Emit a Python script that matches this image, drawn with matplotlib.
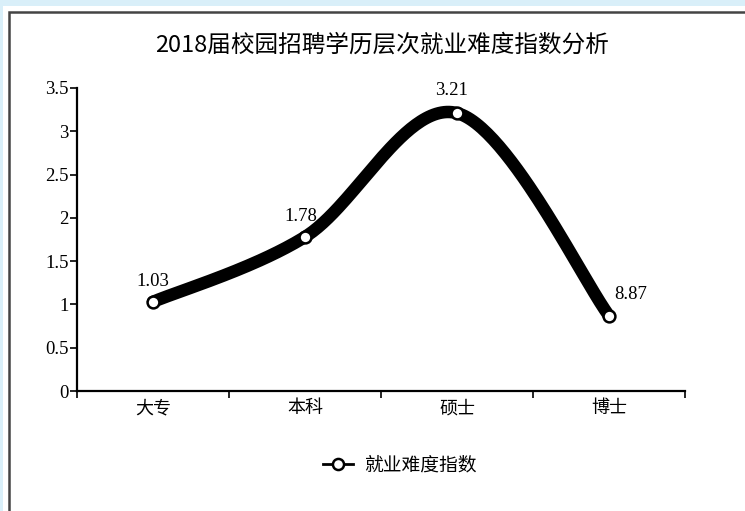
import numpy as np
import matplotlib
matplotlib.use("Agg")
import matplotlib.pyplot as plt
from matplotlib.patches import Rectangle
from matplotlib.lines import Line2D

categories = ["大专", "本科", "硕士", "博士"]
values = [1.03, 1.78, 3.21, 0.87]
value_labels = ["1.03", "1.78", "3.21", "8.87"]
yticks = [0, 0.5, 1, 1.5, 2, 2.5, 3, 3.5]
ytick_labels = ["0", "0.5", "1", "1.5", "2", "2.5", "3", "3.5"]
title = "2018届校园招聘学历层次就业难度指数分析"
series_name = "就业难度指数"

CJK = ["Noto Sans CJK SC", "DejaVu Sans"]
SERIF = ["Liberation Serif", "DejaVu Serif"]

W, H = 745, 511
fig = plt.figure(figsize=(W / 100, H / 100), dpi=100)
fig.patch.set_facecolor("#d9eff9")

# white panel and dark frame (in pixel-based figure fraction)
fig.patches.append(Rectangle((3 / W, 0), 1, 1 - 6 / H, transform=fig.transFigure,
                             facecolor="white", edgecolor="none", zorder=-3))
fig.patches.append(Rectangle((9 / W, -0.1), 1.2, 1 + 0.1 - 12 / H, transform=fig.transFigure,
                             facecolor="none", edgecolor="#444444", linewidth=1.8, zorder=-2))

ax = fig.add_axes([77 / W, 1 - 391 / H, (685 - 77) / W, (391 - 88) / H])
ax.set_facecolor("none")
ax.set_zorder(2)

x = np.arange(len(categories)) + 0.5
y = np.array(values)

# Excel-like smoothed line (Catmull-Rom / Bezier, tension 1/6)
P = np.column_stack([x, y])
Pext = np.vstack([P[0], P, P[-1]])
curve = []
t = np.linspace(0, 1, 60)
for i in range(len(P) - 1):
    p0, p1, p2, p3 = Pext[i], Pext[i + 1], Pext[i + 2], Pext[i + 3]
    c1 = p1 + (p2 - p0) / 6
    c2 = p2 - (p3 - p1) / 6
    seg = ((1 - t) ** 3)[:, None] * p1 + (3 * (1 - t) ** 2 * t)[:, None] * c1 \
        + (3 * (1 - t) * t ** 2)[:, None] * c2 + (t ** 3)[:, None] * p2
    curve.append(seg)
curve = np.vstack(curve)
ax.plot(curve[:, 0], curve[:, 1], color="black", linewidth=9,
        solid_capstyle="round", zorder=3, clip_on=False)
ax.plot(x, y, linestyle="none", marker="o", markersize=8.5, markerfacecolor="white",
        markeredgecolor="black", markeredgewidth=1.8, zorder=4, clip_on=False)

offsets = [(0, 12), (-4, 12), (-5, 14), (22, 13)]
for xi, yi, lab, (dx, dy) in zip(x, y, value_labels, offsets):
    ax.annotate(lab, (xi, yi), xytext=(dx, dy), textcoords="offset pixels",
                ha="center", va="bottom", fontsize=13.5, family=SERIF, color="black")

ax.set_xlim(0, len(categories))
ax.set_ylim(0, 3.5)
ax.set_yticks(yticks)
ax.set_yticklabels(ytick_labels, family=SERIF, fontsize=13.5)
ax.set_xticks(np.arange(len(categories) + 1))
ax.set_xticklabels([])
ax.set_xticks(x, minor=True)
ax.set_xticklabels(categories, minor=True, family=CJK, fontsize=13)
ax.tick_params(axis="x", which="minor", length=0, pad=6)
ax.tick_params(axis="x", which="major", length=5, width=1.2, direction="out")
ax.tick_params(axis="y", length=5, width=1.2, direction="out", pad=1)
for s in ["top", "right"]:
    ax.spines[s].set_visible(False)
for s in ["left", "bottom"]:
    ax.spines[s].set_linewidth(1.6)
    ax.spines[s].set_color("black")

fig.text(382 / W, 1 - 45 / H, title, ha="center", va="center", fontsize=17,
         family=CJK, color="black")

handle = Line2D([], [], color="black", linewidth=2, marker="o", markersize=8,
                markerfacecolor="white", markeredgecolor="black", markeredgewidth=1.8)
fig.legend([handle], [series_name], loc="center", bbox_to_anchor=(400 / W, 1 - 465 / H),
           frameon=False, prop={"family": CJK, "size": 13.5}, handlelength=1.6,
           handletextpad=0.6)

fig.savefig("out.png", dpi=100, facecolor=fig.get_facecolor())
